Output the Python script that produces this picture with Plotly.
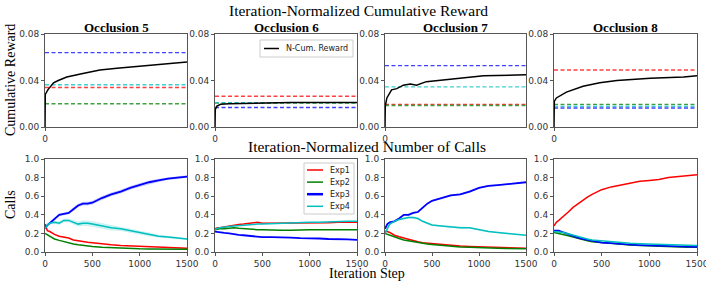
import plotly.graph_objects as go

# ---------------- data ----------------
OCCLUSIONS = ["Occlusion 5", "Occlusion 6", "Occlusion 7", "Occlusion 8"]
EXPS = ["Exp1", "Exp2", "Exp3", "Exp4"]

# Top row: baseline (dashed) reward levels per experiment, per occlusion
BASE_EXP1 = [0.034, 0.0265, 0.0195, 0.049]
BASE_EXP2 = [0.020, 0.0205, 0.0185, 0.0195]
BASE_EXP3 = [0.064, 0.0168, 0.0528, 0.0163]
BASE_EXP4 = [0.0363, 0.0210, 0.0345, 0.0178]

# Top row: N-Cum. Reward curves
REW_X_5 = [0, 3, 30, 90, 140, 230, 400, 580, 760, 1120, 1500]
REW_Y_5 = [0.0, 0.028, 0.032, 0.038, 0.040, 0.043, 0.046, 0.049, 0.0505, 0.053, 0.056]
REW_X_6 = [0, 3, 20, 60, 150, 400, 800, 1500]
REW_Y_6 = [0.0, 0.015, 0.018, 0.0195, 0.020, 0.0205, 0.021, 0.021]
REW_X_7 = [0, 3, 20, 70, 125, 195, 270, 335, 440, 550, 700, 880, 1050, 1500]
REW_Y_7 = [0.0, 0.018, 0.025, 0.032, 0.033, 0.036, 0.037, 0.036, 0.039, 0.040, 0.041, 0.043, 0.044, 0.045]
REW_X_8 = [0, 3, 25, 130, 305, 480, 660, 1010, 1360, 1500]
REW_Y_8 = [0.0, 0.022, 0.025, 0.030, 0.035, 0.038, 0.040, 0.042, 0.043, 0.044]

# Bottom row: normalized number of calls
CALL_X = [0, 25, 50, 100, 150, 200, 250, 300, 350, 400, 450, 500, 600, 700, 800, 900,
          1000, 1100, 1200, 1300, 1400, 1500]

C5_EXP1 = [0.30, 0.23, 0.22, 0.19, 0.17, 0.16, 0.15, 0.13, 0.12, 0.11, 0.105, 0.10, 0.085, 0.077,
           0.07, 0.065, 0.06, 0.055, 0.05, 0.047, 0.044, 0.04]
C5_EXP2 = [0.20, 0.185, 0.17, 0.14, 0.125, 0.11, 0.095, 0.085, 0.077, 0.07, 0.065, 0.06, 0.052,
           0.046, 0.042, 0.038, 0.035, 0.033, 0.032, 0.031, 0.03, 0.03]
C5_EXP3 = [0.25, 0.29, 0.31, 0.35, 0.40, 0.41, 0.42, 0.46, 0.50, 0.52, 0.52, 0.53, 0.58, 0.62,
           0.65, 0.69, 0.72, 0.75, 0.77, 0.79, 0.80, 0.81]
C5_EXP4 = [0.25, 0.29, 0.31, 0.32, 0.31, 0.34, 0.34, 0.32, 0.30, 0.31, 0.31, 0.30, 0.28, 0.26,
           0.25, 0.23, 0.21, 0.19, 0.17, 0.16, 0.15, 0.14]

C6_EXP1 = [0.25, 0.26, 0.26, 0.27, 0.28, 0.29, 0.295, 0.30, 0.305, 0.31, 0.32, 0.31, 0.31, 0.31,
           0.31, 0.31, 0.31, 0.315, 0.315, 0.32, 0.32, 0.32]
C6_EXP2 = [0.24, 0.245, 0.25, 0.25, 0.255, 0.26, 0.255, 0.25, 0.245, 0.24, 0.24, 0.24, 0.235, 0.235,
           0.235, 0.24, 0.24, 0.24, 0.24, 0.24, 0.24, 0.24]
C6_EXP3 = [0.22, 0.215, 0.21, 0.205, 0.20, 0.19, 0.185, 0.18, 0.175, 0.17, 0.165, 0.16, 0.16, 0.16,
           0.155, 0.15, 0.15, 0.145, 0.14, 0.14, 0.135, 0.13]
C6_EXP4 = [0.24, 0.255, 0.26, 0.27, 0.275, 0.28, 0.285, 0.29, 0.295, 0.30, 0.30, 0.30, 0.305, 0.31,
           0.31, 0.315, 0.32, 0.32, 0.325, 0.325, 0.33, 0.33]

C7_EXP1 = [0.22, 0.22, 0.21, 0.18, 0.165, 0.15, 0.135, 0.12, 0.11, 0.10, 0.095, 0.09, 0.08, 0.07,
           0.065, 0.06, 0.055, 0.05, 0.047, 0.044, 0.042, 0.04]
C7_EXP2 = [0.20, 0.19, 0.18, 0.16, 0.145, 0.13, 0.12, 0.11, 0.10, 0.09, 0.085, 0.08, 0.07, 0.06,
           0.055, 0.05, 0.045, 0.042, 0.04, 0.038, 0.036, 0.035]
C7_EXP3 = [0.25, 0.30, 0.32, 0.33, 0.36, 0.40, 0.40, 0.42, 0.43, 0.48, 0.52, 0.55, 0.58, 0.61,
           0.62, 0.65, 0.69, 0.71, 0.72, 0.73, 0.74, 0.75]
C7_EXP4 = [0.20, 0.26, 0.30, 0.33, 0.35, 0.36, 0.37, 0.37, 0.36, 0.33, 0.31, 0.29, 0.28, 0.27,
           0.26, 0.26, 0.24, 0.22, 0.21, 0.20, 0.19, 0.18]

C8_EXP1 = [0.28, 0.32, 0.34, 0.38, 0.43, 0.48, 0.52, 0.56, 0.59, 0.62, 0.645, 0.67, 0.70, 0.72,
           0.74, 0.76, 0.77, 0.78, 0.80, 0.81, 0.82, 0.83]
C8_EXP2 = [0.21, 0.205, 0.20, 0.19, 0.175, 0.16, 0.145, 0.13, 0.12, 0.11, 0.105, 0.10, 0.09, 0.08,
           0.075, 0.07, 0.065, 0.06, 0.057, 0.055, 0.052, 0.05]
C8_EXP3 = [0.23, 0.23, 0.23, 0.21, 0.19, 0.17, 0.155, 0.14, 0.13, 0.12, 0.11, 0.10, 0.095, 0.085,
           0.08, 0.075, 0.07, 0.066, 0.062, 0.06, 0.057, 0.055]
C8_EXP4 = [0.22, 0.22, 0.215, 0.21, 0.195, 0.18, 0.165, 0.15, 0.14, 0.13, 0.125, 0.12, 0.11, 0.10,
           0.095, 0.09, 0.085, 0.08, 0.078, 0.075, 0.072, 0.07]

# half-width of the shaded spread band (Occlusion 5/7 show visible bands)
BAND5_EXP3 = [0.0, 0.01, 0.015, 0.015, 0.015, 0.015, 0.015, 0.02, 0.02, 0.02, 0.02, 0.02, 0.02, 0.02,
              0.02, 0.02, 0.02, 0.02, 0.018, 0.015, 0.015, 0.015]
BAND5_EXP4 = [0.0, 0.01, 0.015, 0.015, 0.02, 0.02, 0.02, 0.025, 0.025, 0.03, 0.03, 0.03, 0.03, 0.03,
              0.025, 0.025, 0.02, 0.02, 0.015, 0.015, 0.012, 0.01]
BAND7_EXP3 = [0.0, 0.005, 0.008, 0.01, 0.01, 0.01, 0.012, 0.012, 0.01, 0.01, 0.008, 0.008, 0.008, 0.01,
              0.01, 0.01, 0.008, 0.008, 0.006, 0.006, 0.006, 0.006]
BAND7_EXP4 = [0.0, 0.005, 0.008, 0.01, 0.01, 0.01, 0.012, 0.012, 0.01, 0.01, 0.008, 0.008, 0.008, 0.01,
              0.01, 0.01, 0.008, 0.008, 0.006, 0.006, 0.006, 0.006]

REW_TICKS = [0.00, 0.04, 0.08]
REW_TICK_TEXT = ["0.00", "0.04", "0.08"]
CALL_TICKS = [0.0, 0.2, 0.4, 0.6, 0.8, 1.0]
CALL_TICK_TEXT = ["0.0", "0.2", "0.4", "0.6", "0.8", "1.0"]
STEP_TICKS = [0, 500, 1000, 1500]

COLORS = {"Exp1": "#ff0000", "Exp2": "#008000", "Exp3": "#0000ff", "Exp4": "#00bfbf"}
LINE_W = {"Exp1": 1.5, "Exp2": 1.5, "Exp3": 1.8, "Exp4": 1.5}
DASH_COLORS = {"Exp1": "rgba(255,0,0,0.75)", "Exp2": "rgba(0,128,0,0.75)",
               "Exp3": "rgba(0,0,255,0.75)", "Exp4": "rgba(0,191,191,0.75)"}
BAND_COLORS = {"Exp3": "rgba(0,0,255,0.2)", "Exp4": "rgba(0,191,191,0.2)"}

# ---------------- figure ----------------
W, H = 706, 283
def px_x(a, b):
    return [a / W, b / W]
def px_y(top, bot):
    return [1 - bot / H, 1 - top / H]
def fx(p):
    return p / W
def fy(p):
    return 1 - p / H

XDOM = [px_x(45, 187), px_x(215, 357), px_x(385, 526), px_x(554, 697)]
YDOM_TOP = px_y(34, 127)
YDOM_BOT = px_y(159, 252)

fig = go.Figure()

rew_x = [REW_X_5, REW_X_6, REW_X_7, REW_X_8]
rew_y = [REW_Y_5, REW_Y_6, REW_Y_7, REW_Y_8]
bases = {"Exp1": BASE_EXP1, "Exp2": BASE_EXP2, "Exp3": BASE_EXP3, "Exp4": BASE_EXP4}
calls = [
    {"Exp1": C5_EXP1, "Exp2": C5_EXP2, "Exp3": C5_EXP3, "Exp4": C5_EXP4},
    {"Exp1": C6_EXP1, "Exp2": C6_EXP2, "Exp3": C6_EXP3, "Exp4": C6_EXP4},
    {"Exp1": C7_EXP1, "Exp2": C7_EXP2, "Exp3": C7_EXP3, "Exp4": C7_EXP4},
    {"Exp1": C8_EXP1, "Exp2": C8_EXP2, "Exp3": C8_EXP3, "Exp4": C8_EXP4},
]
bands = [
    {"Exp3": BAND5_EXP3, "Exp4": BAND5_EXP4},
    {},
    {"Exp3": BAND7_EXP3, "Exp4": BAND7_EXP4},
    {},
]

TICKFONT = dict(family="DejaVu Sans", size=9, color="#333333")
AXLINE = "#555555"

for i in range(4):
    xa_top = f"x{2*i+1}"
    ya_top = f"y{2*i+1}"
    xa_bot = f"x{2*i+2}"
    ya_bot = f"y{2*i+2}"
    for e in EXPS:
        v = bases[e][i]
        fig.add_trace(go.Scatter(x=[0, 1500], y=[v, v], mode="lines",
                                 line=dict(color=DASH_COLORS[e], width=1.4, dash="4px,2.5px"),
                                 showlegend=False, xaxis=xa_top, yaxis=ya_top, hoverinfo="skip"))
    fig.add_trace(go.Scatter(x=rew_x[i], y=rew_y[i], mode="lines",
                             line=dict(color="black", width=1.5),
                             name="N-Cum. Reward", showlegend=False,
                             xaxis=xa_top, yaxis=ya_top))
    for e, bw in bands[i].items():
        ys = calls[i][e]
        upper = [y + b for y, b in zip(ys, bw)]
        lower = [y - b for y, b in zip(ys, bw)]
        fig.add_trace(go.Scatter(x=CALL_X + CALL_X[::-1], y=upper + lower[::-1],
                                 fill="toself", fillcolor=BAND_COLORS[e], line=dict(width=0),
                                 mode="lines", showlegend=False, hoverinfo="skip",
                                 xaxis=xa_bot, yaxis=ya_bot))
    for e in EXPS:
        fig.add_trace(go.Scatter(x=CALL_X, y=calls[i][e], mode="lines",
                                 line=dict(color=COLORS[e], width=LINE_W[e]),
                                 name=e, showlegend=False,
                                 xaxis=xa_bot, yaxis=ya_bot))

    common = dict(showline=True, linecolor=AXLINE, linewidth=1, mirror=True, ticks="outside",
                  ticklen=3, tickcolor=AXLINE, tickfont=TICKFONT, showgrid=False, zeroline=False,
                  automargin=False)
    fig.update_layout(**{
        f"xaxis{2*i+1}": dict(domain=XDOM[i], anchor=ya_top, range=[0, 1500],
                              tickvals=[0], ticktext=["0"], **common),
        f"yaxis{2*i+1}": dict(domain=YDOM_TOP, anchor=xa_top, range=[0, 0.08],
                              tickvals=REW_TICKS, ticktext=REW_TICK_TEXT, **common),
        f"xaxis{2*i+2}": dict(domain=XDOM[i], anchor=ya_bot, range=[0, 1500],
                              tickvals=STEP_TICKS, ticklabeloverflow="allow", **common),
        f"yaxis{2*i+2}": dict(domain=YDOM_BOT, anchor=xa_bot, range=[0, 1.0],
                              tickvals=CALL_TICKS, ticktext=CALL_TICK_TEXT, **common),
    })

SERIF = "Liberation Serif"
ann = []
ann.append(dict(text="Iteration-Normalized Cumulative Reward", x=fx(358.5), y=fy(10),
                font=dict(family=SERIF, size=15.5, color="black")))
ann.append(dict(text="Iteration-Normalized Number of Calls", x=fx(367.5), y=fy(146),
                font=dict(family=SERIF, size=15.5, color="black")))
ann.append(dict(text="Iteration Step", x=fx(367), y=fy(273),
                font=dict(family=SERIF, size=14, color="black")))
for i, t in enumerate(OCCLUSIONS):
    ann.append(dict(text=f"<b>{t}</b>", x=sum(XDOM[i]) / 2, y=fy(27),
                    font=dict(family=SERIF, size=13, color="black")))
ann.append(dict(text="Cumulative Reward", x=fx(10), y=fy(80), textangle=-90,
                font=dict(family=SERIF, size=14, color="black")))
ann.append(dict(text="Calls", x=fx(10), y=fy(205), textangle=-90,
                font=dict(family=SERIF, size=14, color="black")))
for a in ann:
    a.update(xref="paper", yref="paper", showarrow=False, xanchor="center", yanchor="middle")

# hand-built compact legends (matplotlib style) inside Occlusion 6 panels
shapes = []
LEGFONT = dict(family="DejaVu Sans", size=8, color="#222222")
shapes.append(dict(type="rect", xref="paper", yref="paper", x0=fx(260), x1=fx(353),
                   y0=fy(57), y1=fy(40), line=dict(color="#cccccc", width=1),
                   fillcolor="rgba(255,255,255,0.9)", layer="above"))
shapes.append(dict(type="line", xref="paper", yref="paper", x0=fx(264), x1=fx(279),
                   y0=fy(48.5), y1=fy(48.5), line=dict(color="black", width=1.5), layer="above"))
ann.append(dict(text="N-Cum. Reward", x=fx(284), y=fy(48.5), xref="paper", yref="paper",
                showarrow=False, xanchor="left", yanchor="middle", font=LEGFONT))
shapes.append(dict(type="rect", xref="paper", yref="paper", x0=fx(304), x1=fx(354),
                   y0=fy(214), y1=fy(163), line=dict(color="#cccccc", width=1),
                   fillcolor="rgba(255,255,255,0.9)", layer="above"))
for k, e in enumerate(EXPS):
    yy = 170 + k * 12.1
    shapes.append(dict(type="line", xref="paper", yref="paper", x0=fx(307), x1=fx(323),
                       y0=fy(yy), y1=fy(yy),
                       line=dict(color=COLORS[e], width=2.5 if e == "Exp3" else 1.5),
                       layer="above"))
    ann.append(dict(text=e, x=fx(328), y=fy(yy), xref="paper", yref="paper",
                    showarrow=False, xanchor="left", yanchor="middle", font=LEGFONT))

fig.update_layout(
    width=W, height=H, margin=dict(l=0, r=0, t=0, b=0),
    paper_bgcolor="white", plot_bgcolor="white",
    annotations=ann, shapes=shapes, showlegend=False,
)

fig.write_html("out.html", config={"displayModeBar": False},
               post_script="document.body.style.margin='0px';")
